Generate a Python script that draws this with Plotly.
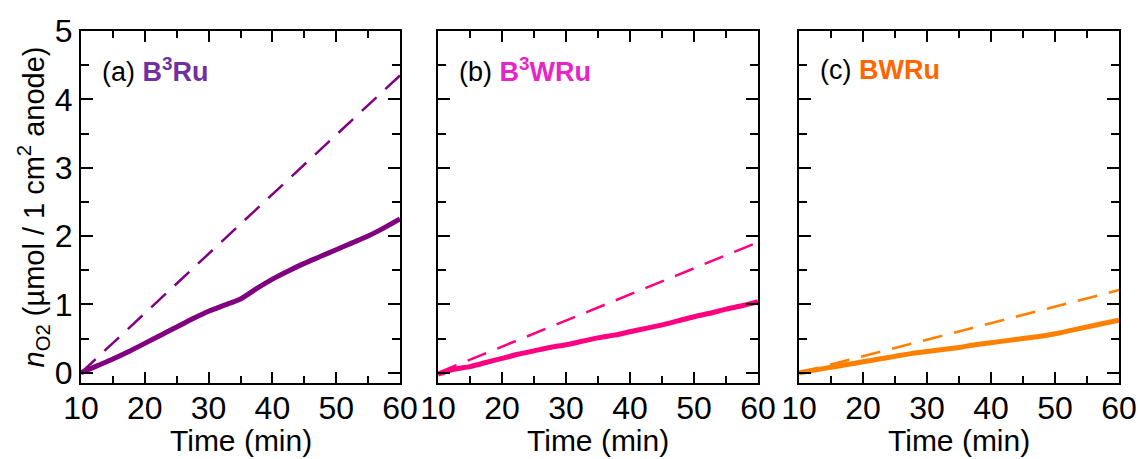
import plotly.graph_objects as go

time_min = [10, 12.5, 15, 17.5, 20, 22.5, 25, 27.5, 30, 32.5, 35, 37.5, 40,
            42.5, 45, 47.5, 50, 52.5, 55, 57.5, 60]

b3ru_measured = [0.0, 0.10, 0.20, 0.31, 0.43, 0.55, 0.67, 0.79, 0.90, 0.99, 1.08,
                 1.23, 1.37, 1.49, 1.60, 1.70, 1.80, 1.90, 2.00, 2.12, 2.25]
b3wru_measured = [-0.02, 0.05, 0.09, 0.15, 0.21, 0.27, 0.32, 0.37, 0.41, 0.46, 0.51,
                  0.55, 0.60, 0.65, 0.70, 0.76, 0.82, 0.87, 0.93, 0.98, 1.04]
bwru_measured = [0.0, 0.04, 0.08, 0.12, 0.16, 0.20, 0.24, 0.28, 0.31, 0.34, 0.37,
                 0.41, 0.44, 0.47, 0.50, 0.53, 0.57, 0.62, 0.67, 0.72, 0.77]

theory_time = [10, 60]
b3ru_theory = [0.0, 4.35]
b3wru_theory = [0.0, 1.91]
bwru_theory = [0.0, 1.21]

panel_labels = ["(a)", "(b)", "(c)"]
sample_names = ["B<sup>3</sup>Ru", "B<sup>3</sup>WRu", "BWRu"]
line_colors = ["#800080", "#FF0080", "#FF8000"]
text_colors = ["#7030A0", "#E824C8", "#FF6600"]
x_title = "Time (min)"

measured = [b3ru_measured, b3wru_measured, bwru_measured]
theory = [b3ru_theory, b3wru_theory, bwru_theory]

FONT = "Liberation Sans"
W, H = 1140, 459
x_domains = [(81 / W, 400 / W), (438 / W, 758 / W), (799 / W, 1119 / W)]
y_domain = ((459 - 383) / H, (459 - 31) / H)

fig = go.Figure()
layout = dict(
    width=W, height=H,
    margin=dict(l=0, r=0, t=0, b=0, autoexpand=False),
    paper_bgcolor="white", plot_bgcolor="white",
    showlegend=False,
    font=dict(family=FONT, color="black"),
)

annotations = []
for i in range(3):
    xa = "x" if i == 0 else f"x{i+1}"
    ya = "y" if i == 0 else f"y{i+1}"
    fig.add_trace(go.Scatter(x=theory_time, y=theory[i], mode="lines",
                             line=dict(color=line_colors[i], width=2.5, dash="20px,12px"),
                             xaxis=xa, yaxis=ya))
    fig.add_trace(go.Scatter(x=time_min, y=measured[i], mode="lines",
                             line=dict(color=line_colors[i], width=5, shape="spline", smoothing=0.6),
                             xaxis=xa, yaxis=ya))
    xkey = "xaxis" if i == 0 else f"xaxis{i+1}"
    ykey = "yaxis" if i == 0 else f"yaxis{i+1}"
    layout[xkey] = dict(
        domain=list(x_domains[i]), anchor=ya, range=[10, 60], automargin=False,
        tickmode="array", tickvals=[10, 20, 30, 40, 50, 60],
        ticks="inside", ticklen=11, tickwidth=2, tickcolor="black",
        ticklabelstandoff=-4,
        minor=dict(tickmode="array", tickvals=[15, 25, 35, 45, 55], ticks="inside",
                   ticklen=7, tickwidth=2, tickcolor="black"),
        showline=True, linecolor="black", linewidth=2, mirror="ticks",
        showgrid=False, zeroline=False,
        tickfont=dict(size=32, family=FONT, color="black"),
    )
    layout[ykey] = dict(
        domain=list(y_domain), anchor=xa, range=[-0.15, 5.0], automargin=False,
        tickmode="array", tickvals=[0, 1, 2, 3, 4, 5],
        ticks="inside", ticklen=12, tickwidth=2, tickcolor="black",
        minor=dict(tickmode="array", tickvals=[0.5, 1.5, 2.5, 3.5, 4.5], ticks="inside",
                   ticklen=8, tickwidth=2, tickcolor="black"),
        showline=True, linecolor="black", linewidth=2, mirror="ticks",
        showgrid=False, zeroline=False,
        showticklabels=(i == 0),
        tickfont=dict(size=32, family=FONT, color="black"),
    )
    if i == 0:
        layout[ykey]["title"] = dict(
            text="<i>n</i><sub>O2</sub> (µmol / 1 cm<sup>2</sup> anode)",
            font=dict(size=29, family=FONT, color="black"), standoff=2)
    annotations.append(dict(
        xref="paper", yref="paper",
        x=x_domains[i][0] + 19 / W, y=(459 - 70) / H,
        xanchor="left", yanchor="middle", showarrow=False,
        text=f"{panel_labels[i]} <b><span style='color:{text_colors[i]}'>{sample_names[i]}</span></b>",
        font=dict(size=27, family=FONT, color="black"),
    ))
    annotations.append(dict(
        xref="paper", yref="paper",
        x=(x_domains[i][0] + x_domains[i][1]) / 2, y=(459 - 440) / H,
        xanchor="center", yanchor="middle", showarrow=False, borderpad=0,
        text=x_title, font=dict(size=30, family=FONT, color="black"),
    ))

layout["annotations"] = annotations
fig.update_layout(**layout)
fig.write_html("out.html")
